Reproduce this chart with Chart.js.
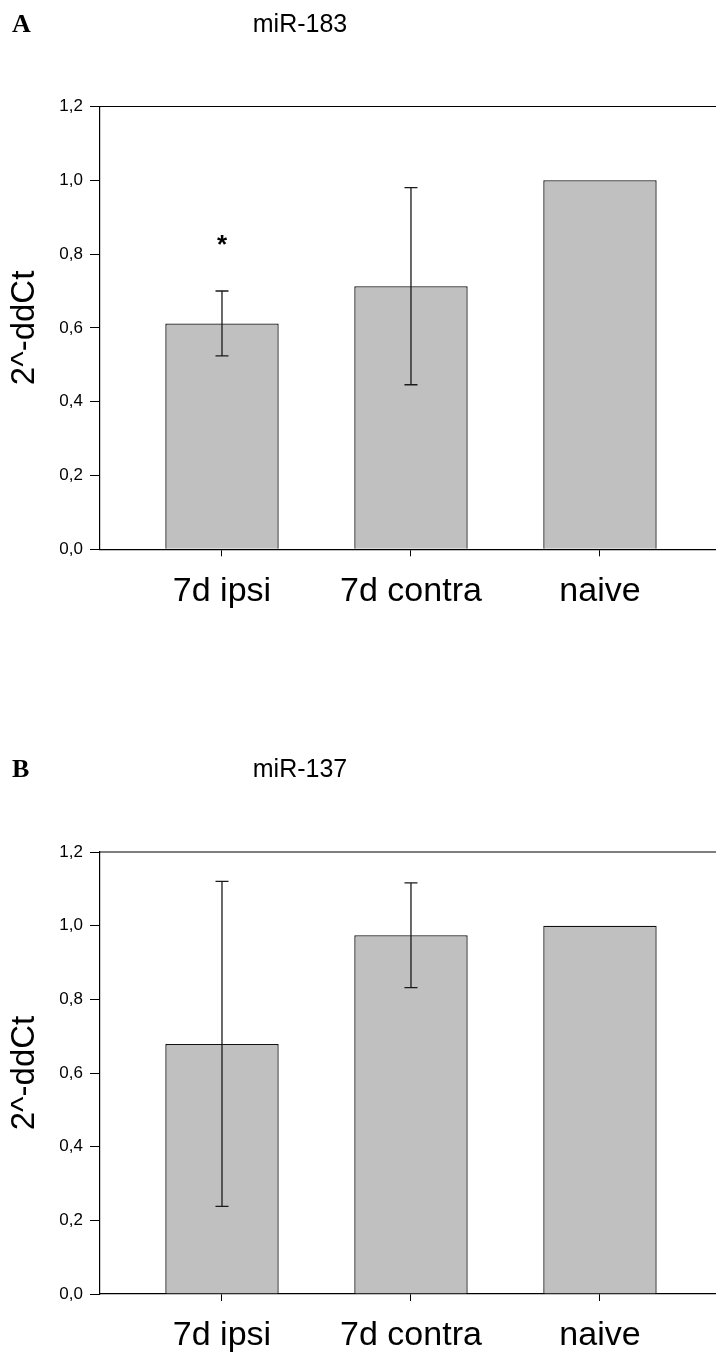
<!DOCTYPE html>
<html>
<head>
<meta charset="utf-8">
<script src="https://cdn.jsdelivr.net/npm/chart.js@4"></script>
<style>
  html, body { margin: 0; padding: 0; background: #fff; }
  canvas { display: block; }
</style>
</head>
<body>
<canvas id="panelA" width="716" height="678"></canvas>
<canvas id="panelB" width="716" height="678"></canvas>
<script>
// data
const categories = ['7d ipsi', '7d contra', 'naive'];
const miR183 = [0.612, 0.713, 1.0];
const miR183Err = [0.088, 0.267, 0];
const miR183Stars = [0.84, null, null];
const miR137 = [0.679, 0.974, 1.0];
const miR137Err = [0.441, 0.142, 0];
const miR137Stars = [null, null, null];
const yTickValues = [0, 0.2, 0.4, 0.6, 0.8, 1.0, 1.2];

const FONT = 'Liberation Sans, Arial, sans-serif';

// error bars + significance stars
const errorBars = {
  id: 'errorBars',
  afterDatasetsDraw(chart) {
    const {ctx, scales: {x, y}} = chart;
    const ds = chart.data.datasets[0];
    ctx.save();
    ctx.strokeStyle = '#1a1a1a';
    ctx.lineWidth = 1.3;
    ds.data.forEach((pt, i) => {
      const e = ds.errors[i];
      const px = x.getPixelForValue(pt.x);
      if (e) {
        const top = y.getPixelForValue(pt.y + e);
        const bot = y.getPixelForValue(pt.y - e);
        ctx.beginPath();
        ctx.moveTo(px, top); ctx.lineTo(px, bot);
        ctx.moveTo(px - 6.5, top); ctx.lineTo(px + 6.5, top);
        ctx.moveTo(px - 6.5, bot); ctx.lineTo(px + 6.5, bot);
        ctx.stroke();
      }
      if (ds.stars[i] != null) {
        ctx.fillStyle = '#000';
        ctx.font = 'bold 26px ' + FONT;
        ctx.textAlign = 'center';
        ctx.textBaseline = 'middle';
        ctx.fillText('*', px, y.getPixelForValue(ds.stars[i]) + 6);
      }
    });
    ctx.restore();
  }
};

// panel letter, title and the top frame line
const panelDecor = {
  id: 'panelDecor',
  afterDraw(chart, args, opts) {
    const {ctx, chartArea} = chart;
    ctx.save();
    ctx.strokeStyle = '#000';
    ctx.lineWidth = 1.2;
    ctx.beginPath();
    ctx.moveTo(chartArea.left, chartArea.top);
    ctx.lineTo(chart.width, chartArea.top);
    ctx.stroke();
    ctx.fillStyle = '#000';
    ctx.textBaseline = 'middle';
    ctx.textAlign = 'left';
    ctx.font = 'bold 26px Liberation Serif, Times New Roman, serif';
    ctx.fillText(opts.letter, 12, opts.titleY);
    ctx.textAlign = 'center';
    ctx.font = '25px ' + FONT;
    ctx.fillText(opts.title, 300, opts.titleY);
    ctx.restore();
  }
};

function makePanel(id, values, errors, stars, letter, title, titleY, top, xAxisHeight) {
  new Chart(document.getElementById(id), {
    type: 'bar',
    data: {
      datasets: [{
        data: values.map((v, i) => ({x: i + 1, y: v})),
        errors: errors,
        stars: stars,
        backgroundColor: '#c0c0c0',
        borderColor: '#111',
        borderWidth: 1.3,
        categoryPercentage: 1,
        barPercentage: 0.6
      }]
    },
    options: {
      responsive: false,
      animation: false,
      layout: { padding: { top: top, left: 0, right: 0, bottom: 0 } },
      plugins: {
        legend: { display: false },
        tooltip: { enabled: false },
        panelDecor: { letter: letter, title: title, titleY: titleY }
      },
      scales: {
        x: {
          type: 'linear',
          offset: false,
          min: 0.3545,
          max: 3.614,
          afterBuildTicks: s => { s.ticks = categories.map((c, i) => ({value: i + 1})); },
          afterFit: s => { s.height = xAxisHeight; s.paddingLeft = 0; s.paddingRight = 0; },
          ticks: {
            callback: v => categories[v - 1],
            autoSkip: false,
            maxRotation: 0,
            padding: 18,
            color: '#000',
            font: { family: FONT, size: 34, lineHeight: 1 }
          },
          grid: { offset: false, drawOnChartArea: false, drawTicks: true, tickLength: 7, color: '#000', lineWidth: 1 },
          border: { color: '#000', width: 1.2 }
        },
        y: {
          min: 0,
          max: 1.2,
          afterBuildTicks: s => { s.ticks = yTickValues.map(v => ({value: v})); },
          afterFit: s => { s.width = 100; },
          ticks: {
            callback: v => v.toFixed(1).replace('.', ','),
            padding: 7,
            color: '#000',
            font: { family: FONT, size: 17, lineHeight: 1 }
          },
          grid: { drawOnChartArea: false, drawTicks: true, tickLength: 10, color: '#000', lineWidth: 1 },
          border: { color: '#000', width: 1.2 },
          title: {
            display: true,
            text: '2^-ddCt',
            color: '#000',
            padding: { top: 8, bottom: 0 },
            font: { family: FONT, size: 33, lineHeight: 1 }
          }
        }
      }
    },
    plugins: [errorBars, panelDecor]
  });
}

makePanel('panelA', miR183, miR183Err, miR183Stars, 'A', 'miR-183', 25, 106.5, 128.7);
makePanel('panelB', miR137, miR137Err, miR137Stars, 'B', 'miR-137', 92, 174, 62);
</script>
</body>
</html>
